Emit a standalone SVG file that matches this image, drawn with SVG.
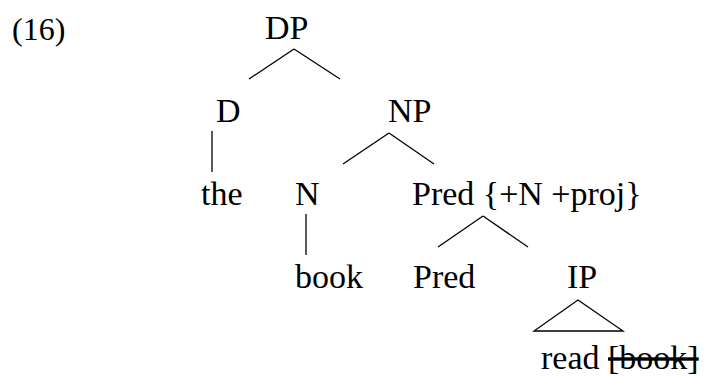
<svg xmlns="http://www.w3.org/2000/svg" width="705" height="376" viewBox="0 0 705 376">
<style>
text { font-family: "Liberation Serif", "Times New Roman", serif; font-size: 34px; fill: #000; }
.edge { stroke: #000; stroke-width: 1.3; fill: none; stroke-linecap: butt; }
</style>
<rect width="705" height="376" fill="#fff"/>
<g id="example-number"><text x="12" y="40" style="font-size:32px">(16)</text></g>
<g id="connectors">
  <line class="edge" x1="294" y1="49" x2="249" y2="79"/>
  <line class="edge" x1="294" y1="49" x2="340" y2="79"/>
  <line class="edge" x1="212" y1="131" x2="212" y2="172"/>
  <line class="edge" x1="389" y1="133" x2="343" y2="164"/>
  <line class="edge" x1="389" y1="133" x2="434" y2="164"/>
  <line class="edge" x1="306" y1="214" x2="306" y2="255"/>
  <line class="edge" x1="483" y1="216" x2="438" y2="247"/>
  <line class="edge" x1="483" y1="216" x2="528" y2="247"/>
  <polygon class="edge" points="578,300 534,331 623,331"/>
</g>
<g id="node-DP"><text x="265" y="39">DP</text></g>
<g id="node-D"><text x="216" y="122">D</text></g>
<g id="node-NP"><text x="388" y="122">NP</text></g>
<g id="node-the"><text x="201" y="205">the</text></g>
<g id="node-N"><text x="295" y="205">N</text></g>
<g id="node-PredP"><text x="412" y="205">Pred {+N +proj}</text></g>
<g id="node-book"><text x="295" y="288">book</text></g>
<g id="node-Pred"><text x="413" y="288">Pred</text></g>
<g id="node-IP"><text x="567" y="288">IP</text></g>
<g id="node-read"><text x="541" y="369">read <tspan text-decoration="line-through">[book]</tspan></text></g>
</svg>
